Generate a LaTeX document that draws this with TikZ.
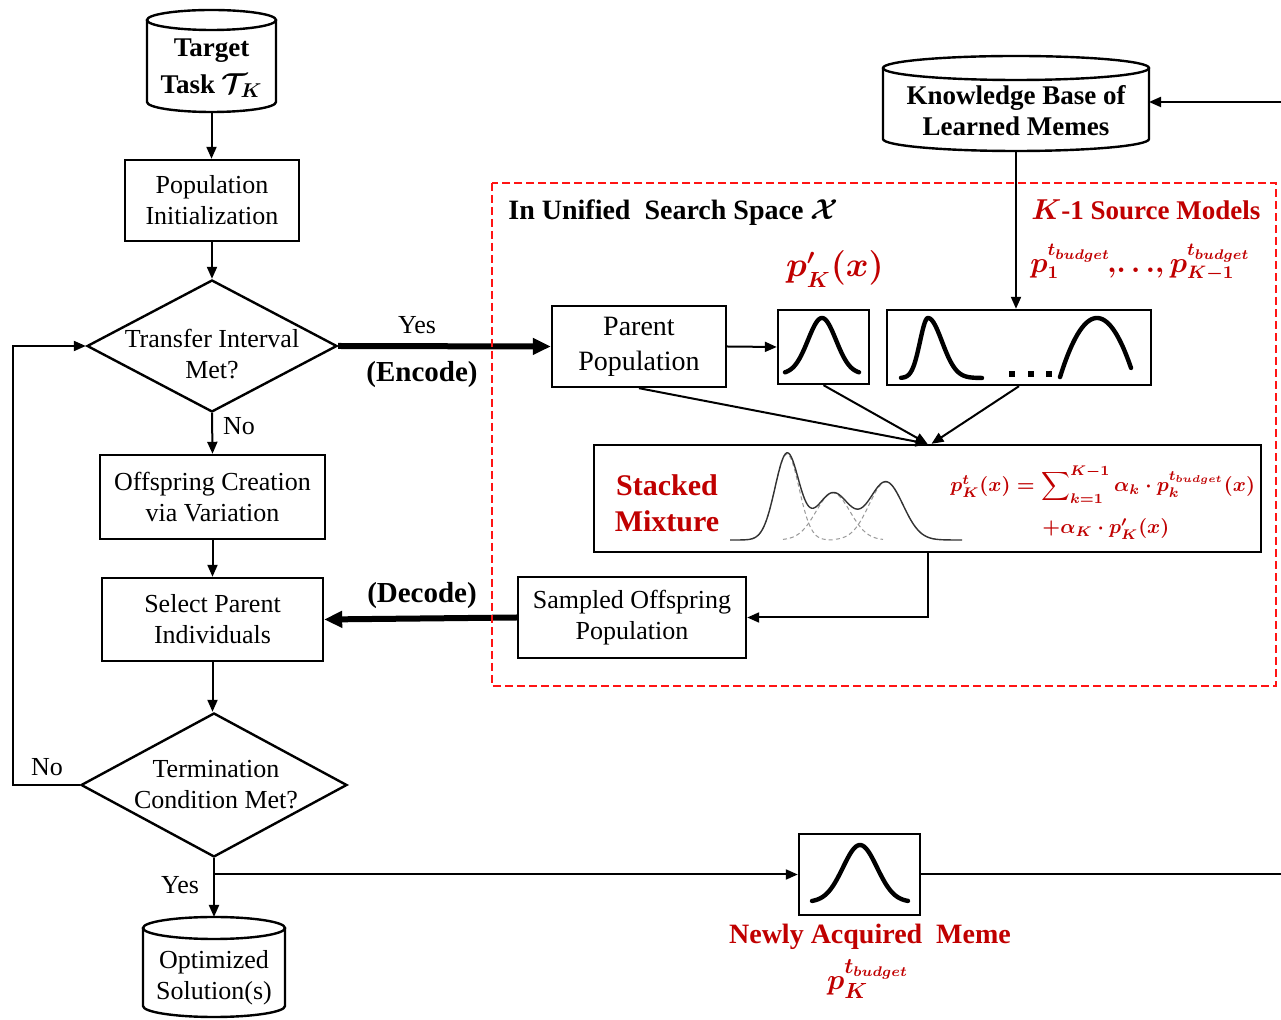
\documentclass[tikz,border=0pt]{standalone}
\usepackage{amsmath,bm}
\usepackage{fontspec}
\setmainfont{Liberation Serif}
\usetikzlibrary{shapes.geometric,arrows.meta}
\definecolor{memered}{RGB}{192,0,0}
\definecolor{zonered}{RGB}{255,20,20}

% drum outline: centre x, x radius, top-ellipse y, bottom-ellipse y, y radius
\newcommand\memdrum[5]{%
  \draw[boxline,fill=white] (#1-#2,#3) -- (#1-#2,#4)
    arc[start angle=180,end angle=0,x radius=#2,y radius=#5] -- (#1+#2,#3);
  \draw[boxline] (#1,#3) ellipse[x radius=#2,y radius=#5];}

\begin{document}
\begin{tikzpicture}[x=0.5pt,y=-0.5pt,
  declare function={gs(\u,\m,\s)=exp(-min(0.5*((\u-\m)/\s)*((\u-\m)/\s),30));},
  boxline/.style={line width=1.2pt},
  txt/.style={align=center,inner sep=0pt,font=\fontsize{13}{15.5}\selectfont},
  btxt/.style={txt,font=\fontsize{13.5}{15.5}\selectfont\bfseries\boldmath},
  rtxt/.style={txt,text=memered,font=\fontsize{14}{18}\selectfont\bfseries\boldmath},
  box/.style={txt,draw,boxline,fill=white},
  dia/.style={diamond,draw,boxline,inner sep=0pt},
  flow/.style={line width=1pt,-{Triangle[length=6pt,width=5pt]}},
  link/.style={line width=1pt},
  heavy/.style={line width=3pt,-{Triangle[length=9pt,width=8pt]}},
  bell/.style={line width=2.2pt,line cap=round,line join=round},
  mix/.style={line width=0.7pt,black!80},
  part/.style={line width=0.5pt,black!40,dash pattern=on 2pt off 1.5pt},
  zone/.style={draw=zonered,line width=1pt,dash pattern=on 4pt off 2pt}]
\useasboundingbox (0,0) rectangle (1281,1020);

% ---------- main evolutionary loop ----------
\memdrum{211.5}{64.5}{20}{102}{10}
\node[btxt,font=\fontsize{13.5}{18.5}\selectfont\bfseries\boldmath] (tgt) at (211.5,68)
  {Target\\Task {\Large$\mathcal{T}_{K}$}};
\coordinate (tgtb) at (211.5,112);

\node[box,minimum width=87pt,minimum height=40.5pt] (init) at (212,200.5)
  {Population\\Initialization};
\node[dia,minimum width=125pt,minimum height=66pt] (d1) at (212,346) {};
\node[txt] (d1t) at (212,354) {Transfer Interval\\Met?};
\node[box,minimum width=112.5pt,minimum height=42pt] (offs) at (212.5,497)
  {Offspring Creation\\via Variation};
\node[box,minimum width=110.5pt,minimum height=41.5pt] (sel) at (212.5,619.5)
  {Select Parent\\Individuals};
\node[dia,minimum width=133pt,minimum height=72pt] (d2) at (214,785) {};
\node[txt] (d2t) at (216,785) {Termination\\Condition Met?};

\memdrum{214}{71}{928}{1006}{11}
\node[txt] (opt) at (214,978) {Optimized\\Solution(s)};
\coordinate (optt) at (214,917);

% ---------- knowledge base ----------
\memdrum{1016}{133}{68}{139}{12}
\node[btxt] (kb) at (1016,111) {Knowledge Base of\\Learned Memes};
\coordinate (kbr) at (1149,102);
\coordinate (kbb) at (1016,151);
\coordinate (inR) at (1281,102);

% ---------- unified search space ----------
\node[btxt,anchor=west,font=\fontsize{14}{16}\selectfont\bfseries\boldmath] (uss) at (508,213)
  {In Unified\ \ Search Space\ {\Large$\mathcal{X}$}};
\node[rtxt,anchor=west,font=\fontsize{13.5}{16}\selectfont\bfseries\boldmath] (srcl) at (1031,210)
  {$K$-1 Source Models};
\node[rtxt,anchor=west,font=\fontsize{13.5}{16}\selectfont\bfseries\boldmath] (srcp) at (1030,263)
  {$p_{1}^{t_{budget}}\mkern-2mu,\mkern-3mu\ldots\mkern-3mu,p_{K-1}^{t_{budget}}$};
\node[rtxt,font=\fontsize{16}{18}\selectfont\bfseries\boldmath] (pkl) at (835,269)
  {$p'_{K}(x)$};

\node[box,minimum width=87pt,minimum height=40.5pt,font=\fontsize{14}{17.5}\selectfont] (par) at (639,346.5)
  {Parent\\Population};
\node[box,minimum width=45.5pt,minimum height=37pt] (pk) at (823.5,347) {};
\node[box,minimum width=132pt,minimum height=37.5pt] (src) at (1019,347.5) {};
\node[box,minimum width=333.5pt,minimum height=53.5pt] (mixb) at (927.5,498.5) {};
\node[rtxt,font=\fontsize{15}{18}\selectfont\bfseries] (stk) at (667,503) {Stacked\\Mixture};
\node[txt,anchor=west,align=left,text=memered,font=\fontsize{10}{20}\selectfont\bfseries\boldmath] (frm) at (950,503)
  {$p^{t}_{K}(x)=\displaystyle\sum\nolimits_{k=1}^{K-1}\alpha_k\cdot p_k^{t_{budget}}(x)$\\[1pt]
   \hspace*{46pt}$+\alpha_K\cdot p'_K(x)$};
\node[box,minimum width=114pt,minimum height=40.5pt] (samp) at (632,617.5)
  {Sampled Offspring\\Population};

% ---------- newly acquired meme ----------
\node[box,minimum width=60.5pt,minimum height=40.5pt] (meme) at (859.5,874.5) {};
\node[rtxt] (mlab) at (870,937) {Newly Acquired\ \ Meme};
\node[rtxt,font=\fontsize{15}{18}\selectfont\bfseries\boldmath] (mp) at (868,979)
  {$p_{K}^{t_{budget}}$};
\coordinate (outR) at (1281,874.5);

% ---------- curves inside the boxes ----------
\draw[bell] plot[domain=-37:37,samples=60] ({822+\x},{374-56*gs(\x,0,14)});
\draw[bell] plot[domain=-27:0,samples=40] ({928+\x},{378-60*gs(\x,0,8)})
  -- plot[domain=0:54,samples=50] ({928+\x},{378-60*gs(\x,0,14)});
\foreach \dx in {1012,1031,1049}
  \fill (\dx-3,371) rectangle (\dx+3,377);
\draw[bell] plot[domain=-37:34,samples=50] ({1097+\x},{318+56*((\x)/36)*((\x)/36)});
\draw[bell] plot[domain=-48:48,samples=60] ({860+\x},{902-57*gs(\x,0,17)});

% stacked mixture: dashed components and their sum
\draw[part] plot[domain=752:835,samples=50] (\x,{540-86*gs(\x,787,12)});
\draw[part] plot[domain=783:883,samples=50] (\x,{540-47*gs(\x,833,17)});
\draw[part] plot[domain=836:936,samples=50] (\x,{540-58*gs(\x,886,17)});
\draw[mix] plot[domain=730:962,samples=160]
  (\x,{540-86*gs(\x,787,12)-47*gs(\x,833,17)-58*gs(\x,886,17)});

% ---------- connectors ----------
\draw[flow] (tgtb) -- (tgtb |- init.north);
\draw[flow] (init.south) -- (d1.north);
\draw[flow] (d1.south) -- node[txt,right=5pt,pos=0.32] (no1) {No} (offs.north);
\draw[flow] (offs.south) -- (sel.north);
\draw[flow] (sel.south) -- (sel.south |- d2.north);
\draw[flow] (d2.west) -- (13,785) -- (13,346) -- (d1.west);
\node[txt] (no2) at (47,767) {No};
\draw[flow] (d2.south) -- (optt);
\node[txt] (yes2) at (180,885) {Yes};
\coordinate (ybr) at (d2.south |- meme.west);
\draw[flow] (ybr) -- (meme.west);
\draw[link] (meme.east) -- (outR);
\draw[flow] (inR) -- (kbr);
\draw[flow] (kbb) -- (kbb |- src.north);

\draw[heavy] (d1.east) -- (par.west);
\node[txt] (yes1) at (417,325) {Yes};
\node[btxt,font=\fontsize{14.5}{16}\selectfont\bfseries] (enc) at (422,375) {(Encode)};
\draw[flow] (par.east) -- (pk.west);
\draw[flow] (par.south) -- (mixb.north);
\draw[flow] (pk.south) -- (mixb.north);
\draw[flow] (src.south) -- ([xshift=2pt]mixb.north);
\draw[flow] (mixb.south) |- (samp.east);
\draw[heavy] (samp.west) -- (sel.east);
\node[btxt,font=\fontsize{14.5}{16}\selectfont\bfseries] (dec) at (422,596) {(Decode)};

% search-space frame
\draw[zone] (492,183) rectangle (1276,686);
\end{tikzpicture}
\end{document}
